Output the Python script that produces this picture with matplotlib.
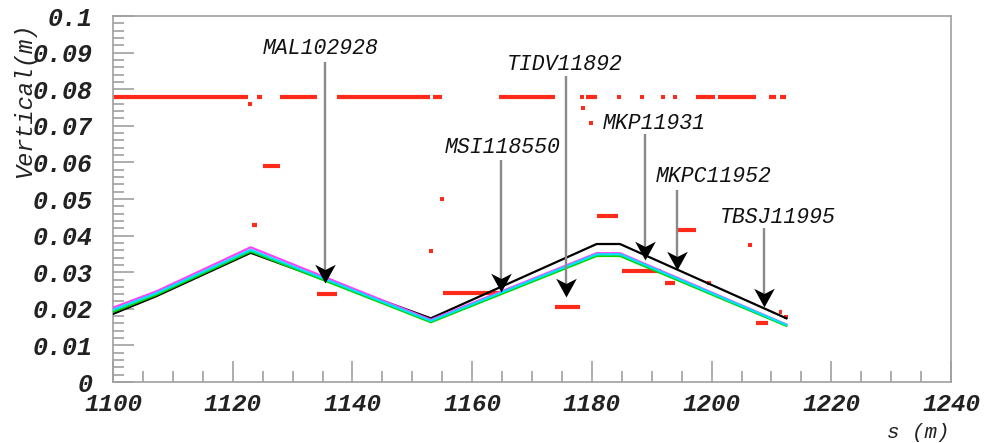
import matplotlib
matplotlib.use("Agg")
import matplotlib.pyplot as plt
from matplotlib.path import Path
from matplotlib.ticker import MultipleLocator, FixedLocator, FixedFormatter

# ---------------- data ----------------
s_pts = [1100, 1107.3, 1123.0, 1153.1, 1180.8, 1184.7, 1212.5]
y_black = [0.0186, 0.0235, 0.0353, 0.0174, 0.0377, 0.0377, 0.0174]
y_magenta = [0.0203, 0.0248, 0.0368, 0.0170, 0.0352, 0.0352, 0.0157]
y_cyan = [0.0197, 0.0243, 0.0361, 0.0167, 0.0349, 0.0349, 0.0156]
y_green = [0.0191, 0.0238, 0.0356, 0.0163, 0.0344, 0.0344, 0.0153]

# aperture segments (red)
seg_start = [1100.0, 1124.1, 1127.9, 1137.5, 1153.4, 1164.5, 1179.0, 1197.4, 1201.0, 1209.6, 1211.5,
             1125.0, 1123.3, 1134.0, 1155.2, 1173.8, 1180.8, 1185.0, 1192.2, 1194.2, 1207.5, 1211.2]
seg_end = [1122.6, 1124.9, 1134.0, 1153.0, 1154.9, 1173.8, 1180.8, 1200.6, 1207.5, 1210.8, 1212.4,
           1127.9, 1124.1, 1137.4, 1164.6, 1178.0, 1184.4, 1191.6, 1193.9, 1197.4, 1209.5, 1211.8]
seg_y = [0.078, 0.078, 0.078, 0.078, 0.078, 0.078, 0.078, 0.078, 0.078, 0.078, 0.078,
         0.059, 0.0429, 0.0241, 0.0243, 0.0204, 0.0454, 0.0304, 0.0270, 0.0415, 0.0160, 0.0192]

dot_s = [1122.9, 1178.3, 1184.6, 1188.3, 1191.9, 1193.9, 1178.6, 1179.8, 1154.9, 1153.1,
         1199.5, 1206.5, 1212.5]
dot_y = [0.0759, 0.078, 0.078, 0.078, 0.078, 0.078, 0.0748, 0.0709, 0.0499, 0.0358,
         0.0270, 0.0374, 0.0178]

# element markers
elem_names = ["MAL102928", "MSI118550", "TIDV11892", "MKP11931", "MKPC11952", "TBSJ11995"]
elem_s = [1135.4, 1164.8, 1175.7, 1188.9, 1194.3, 1208.8]
elem_top = [0.0874, 0.0607, 0.0836, 0.0678, 0.0525, 0.0420]
elem_tip = [0.0270, 0.0247, 0.0231, 0.0333, 0.0306, 0.0204]
label_s = [1125.06, 1155.46, 1165.75, 1181.8, 1190.7, 1201.4]
label_y = [0.0896, 0.0627, 0.0852, 0.0690, 0.0547, 0.0434]

x_ticks = [1100, 1120, 1140, 1160, 1180, 1200, 1220, 1240]
y_ticks = [0, 0.01, 0.02, 0.03, 0.04, 0.05, 0.06, 0.07, 0.08, 0.09, 0.1]
y_tick_labels = ["0", "0.01", "0.02", "0.03", "0.04", "0.05", "0.06", "0.07", "0.08", "0.09", "0.1"]

# ---------------- plot ----------------
FONT = "Liberation Mono"
fig = plt.figure(figsize=(9.84, 4.43), dpi=100)
ax = fig.add_axes([113 / 984, 1 - 382 / 443, (951 - 113) / 984, (382 - 16) / 443])

red = "#ff2a1a"
ax.hlines(seg_y, seg_start, seg_end, colors=red, lw=3, zorder=2)
ax.scatter(dot_s, dot_y, s=7, marker="s", color=red, linewidths=0, zorder=2)

ax.plot(s_pts, y_black, color="black", lw=1.6, zorder=3)
ax.plot(s_pts, y_magenta, color="#ff40ff", lw=1.6, zorder=4)
ax.plot(s_pts, y_cyan, color="#00e0ff", lw=1.6, zorder=5)
ax.plot(s_pts, y_green, color="#00d800", lw=1.4, zorder=4.5)

head = Path([(0, 0), (-0.55, 1.0), (0, 0.72), (0.55, 1.0), (0, 0)],
            [Path.MOVETO, Path.LINETO, Path.LINETO, Path.LINETO, Path.CLOSEPOLY])
for name, xs, yt, yb, lx, ly in zip(elem_names, elem_s, elem_top, elem_tip, label_s, label_y):
    ax.plot([xs, xs], [yt, yb + 0.003], color="#8a8a8a", lw=1.7, zorder=6, solid_capstyle="butt")
    ax.plot([xs], [yb], marker=head, markersize=27, color="black", markeredgewidth=0, zorder=7,
            linestyle="none")
    ax.text(lx, ly, name, family=FONT, style="italic", fontsize=15.5, color="#111111",
            ha="left", va="baseline", zorder=8)

ax.set_xlim(1100, 1240)
ax.set_ylim(0, 0.1)

ax.xaxis.set_major_locator(FixedLocator(x_ticks))
ax.xaxis.set_minor_locator(MultipleLocator(5))
ax.yaxis.set_major_locator(FixedLocator(y_ticks))
ax.yaxis.set_major_formatter(FixedFormatter(y_tick_labels))
ax.yaxis.set_minor_locator(MultipleLocator(0.002))

gray = "#a0a0a0"
ax.tick_params(which="both", direction="in", color=gray, width=1.2, top=False, right=False)
ax.tick_params(which="major", length=15)
ax.tick_params(which="minor", length=8)
ax.tick_params(axis="x", which="major", pad=8)
ax.tick_params(axis="y", which="major", pad=15)
for sp in ax.spines.values():
    sp.set_color(gray)
    sp.set_linewidth(1.2)

for lab in ax.get_xticklabels():
    lab.set_family(FONT)
    lab.set_style("italic")
    lab.set_weight("bold")
    lab.set_fontsize(17.5)
    lab.set_color("#222222")
for lab in ax.get_yticklabels():
    lab.set_family(FONT)
    lab.set_style("italic")
    lab.set_weight("bold")
    lab.set_fontsize(18)
    lab.set_color("#222222")
ax.get_yticklabels()[0].set_verticalalignment("center_baseline")

fig.text(25 / 984, 1 - 100 / 443, "Vertical(m)", rotation=90, family=FONT, style="italic",
         fontsize=17, color="#222222", ha="center", va="center")
fig.text(918 / 984, 1 - 432 / 443, "s (m)", family=FONT, style="italic", fontsize=15,
         color="#222222", ha="center", va="center")

fig.savefig("out.png", dpi=100)
